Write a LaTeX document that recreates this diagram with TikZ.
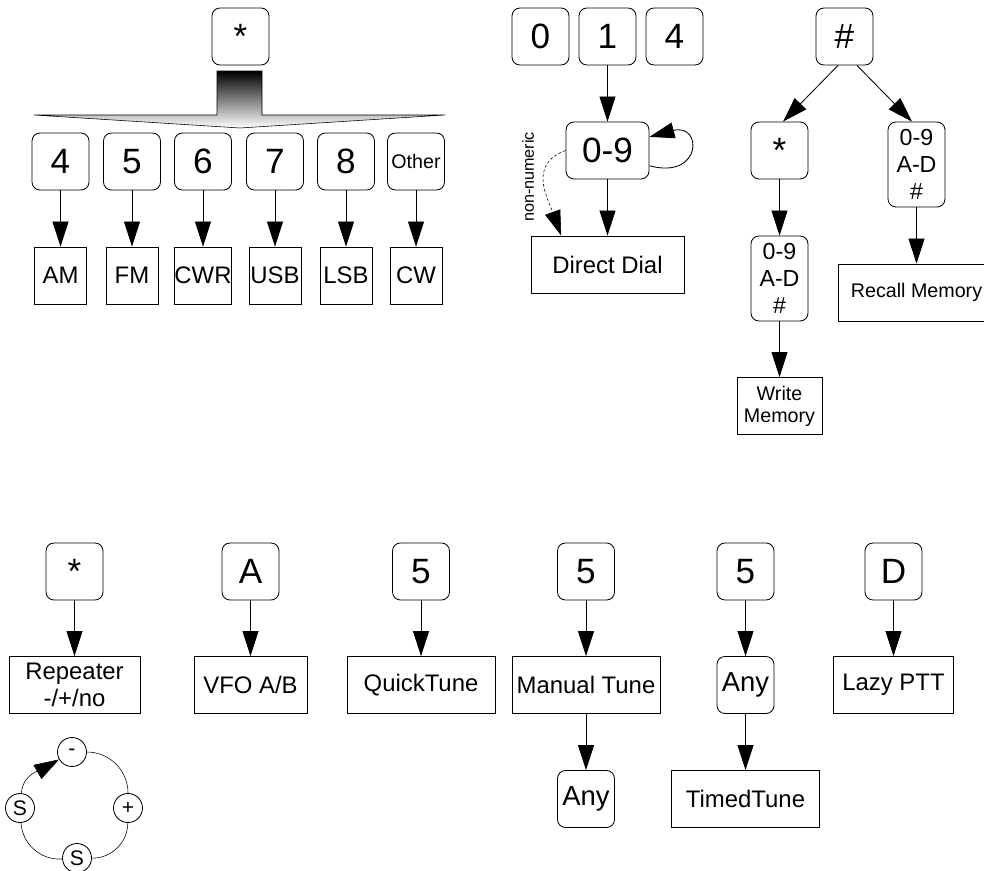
\documentclass[tikz,border=0pt]{standalone}
\usepackage{fontspec}
\setmainfont{Liberation Sans}
\usetikzlibrary{arrows.meta,calc}
\tikzstyle{key} = [rectangle, draw, rounded corners=0.2cm, 
    minimum width=1.425cm, minimum height=1.425cm, inner sep=0pt, font=\fontsize{25}{28}\selectfont]
\tikzstyle{tallkey} = [key, minimum height=2.125cm, align=center, font=\fontsize{16.5}{19}\selectfont]
\tikzstyle{block} = [rectangle, draw, minimum height=1.425cm, inner sep=0pt, 
    align=center, font=\fontsize{17}{19}\selectfont]
\tikzstyle{ring} = [circle, draw, fill=white, minimum size=0.725cm, inner sep=0pt, font=\fontsize{15}{15}\selectfont]
\tikzstyle{line} = [draw, -{Triangle[length=0.625cm, width=0.4cm]}]

\begin{document}
\begin{tikzpicture}[x=0.025cm, y=0.025cm, line width=0.6pt]
    \useasboundingbox (0,0) rectangle (984,-870);
    % Mode selection
    \node[key] (mstar) at (240.5,-36.5) {*};
    \shade[top color=black, bottom color=white, draw=black, line width=0.4pt]
        (217,-71) -- (262,-71) -- (262,-115) -- (445,-115) -- (240,-128) -- (34,-115) -- (217,-115) -- cycle;
    \node[key] (k4) at (60.5,-161.5) {4};
    \node[key] (k5) at (132,-161.5) {5};
    \node[key] (k6) at (203,-161.5) {6};
    \node[key] (k7) at (275,-161.5) {7};
    \node[key] (k8) at (346,-161.5) {8};
    \node[key, font=\fontsize{14}{14}\selectfont] (kother) at (416,-161.5) {Other};
    \node[block, minimum width=1.3cm] (am) at (60.5,-275.5) {AM};
    \node[block, minimum width=1.3cm] (fm) at (132,-275.5) {FM};
    \node[block, minimum width=1.3cm] (cwr) at (203,-275.5) {CWR};
    \node[block, minimum width=1.3cm] (usb) at (275,-275.5) {USB};
    \node[block, minimum width=1.3cm] (lsb) at (346,-275.5) {LSB};
    \node[block, minimum width=1.3cm] (cw) at (416,-275.5) {CW};
    \path [line] (k4) -- (am);
    \path [line] (k5) -- (fm);
    \path [line] (k6) -- (cwr);
    \path [line] (k7) -- (usb);
    \path [line] (k8) -- (lsb);
    \path [line] (kother) -- (cw);
    % Direct dial
    \node[key] (n0) at (540.5,-36.5) {0};
    \node[key] (n1) at (607.5,-36.5) {1};
    \node[key] (n4) at (674.5,-36.5) {4};
    \node[key, minimum width=2.075cm] (digits) at (607.5,-150.5) {0-9};
    \node[block, minimum width=3.825cm] (direct) at (607.5,-264.5) {Direct Dial};
    \node[rotate=90, font=\fontsize{11.5}{11.5}\selectfont] (nonnum) at (528,-177) {non-numeric};
    \path [line] (n1) -- (digits);
    \path [line] (digits) -- (direct);
    \path [line] (digits.-20) .. controls +(-15:55) and +(15:55) .. (digits.18);
    \path [line, dash pattern=on 2pt off 1.5pt, line width=0.4pt] (digits.west) to[out=200, in=110, looseness=1.2] (direct.148);
    % Memories
    \node[key] (hash) at (844.5,-36.5) {\#};
    \node[key] (mstar2) at (779.5,-150.5) {*};
    \node[tallkey] (rclkeys) at (916.5,-164.5) {0-9\\A-D\\\#};
    \node[block, minimum width=3.925cm, font=\fontsize{14}{16}\selectfont] (recall) at (916.5,-292.5) {Recall Memory};
    \node[tallkey] (wrkeys) at (779.5,-278.5) {0-9\\A-D\\\#};
    \node[block, minimum width=2.125cm, font=\fontsize{14}{15.5}\selectfont] (write) at (779.5,-406) {Write\\Memory};
    \path [line] ($(hash.south)+(-6.5,0)$) -- ($(mstar2.north)+(3.5,0)$);
    \path [line] ($(hash.south)+(12.5,0)$) -- ($(rclkeys.north)+(-4.5,0)$);
    \path [line] (mstar2) -- (wrkeys);
    \path [line] (wrkeys) -- (write);
    \path [line] (rclkeys) -- (recall);
    % Other functions
    \node[key] (rptkey) at (74.5,-571.5) {*};
    \node[block, minimum width=3.275cm] (repeater) at (74.5,-685) {Repeater\\-/+/no};
    \node[key] (vfokey) at (250.5,-571.5) {A};
    \node[block, minimum width=2.825cm] (vfo) at (250.5,-685) {VFO A/B};
    \node[key] (qtkey) at (421,-571.5) {5};
    \node[block, minimum width=3.7cm] (quick) at (421,-685) {QuickTune};
    \node[key] (mtkey) at (586,-571.5) {5};
    \node[block, minimum width=3.7cm] (manual) at (586,-685) {Manual Tune};
    \node[key, font=\fontsize{19.5}{20}\selectfont] (mtany) at (586,-799) {Any};
    \node[key] (ttkey) at (745.5,-571.5) {5};
    \node[key, font=\fontsize{19.5}{20}\selectfont] (ttany) at (745.5,-685) {Any};
    \node[block, minimum width=3.7cm] (timed) at (745.5,-799) {TimedTune};
    \node[key] (lazykey) at (893.5,-571.5) {D};
    \node[block, minimum width=3cm] (lazy) at (893.5,-685) {Lazy PTT};
    \path [line] (rptkey) -- (repeater);
    \path [line] (vfokey) -- (vfo);
    \path [line] (qtkey) -- (quick);
    \path [line] (mtkey) -- (manual);
    \path [line] (manual) -- (mtany);
    \path [line] (ttkey) -- (ttany);
    \path [line] (ttany) -- (timed);
    \path [line] (lazykey) -- (lazy);
    % Repeater cycle
    \node[ring] (rminus) at (72,-752) {-};
    \node[ring] (rplus) at (128,-808) {+};
    \node[ring] (rsimb) at (77,-858) {S};
    \node[ring] (rsiml) at (20,-808) {S};
    \path [line, line width=0.4pt] (rsiml) to[out=85, in=210] (rminus);
    \draw[line width=0.4pt] (rminus) to[bend left=45] (rplus);
    \draw[line width=0.4pt] (rplus) to[bend left=45] (rsimb);
    \draw[line width=0.4pt] (rsimb) to[bend left=45] (rsiml);
\end{tikzpicture}
\end{document}
